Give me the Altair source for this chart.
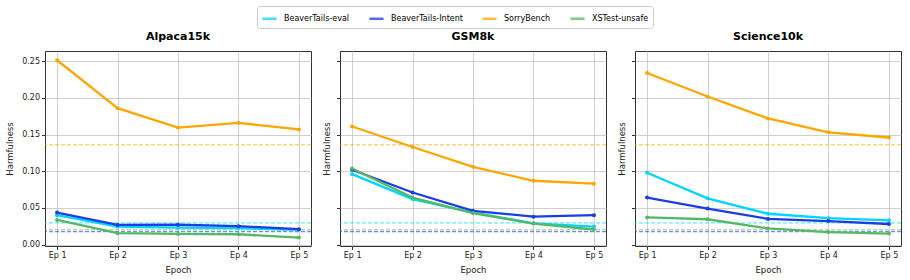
import altair as alt
import pandas as pd

datasets = ["Alpaca15k", "GSM8k", "Science10k"]
series = ["BeaverTails-eval", "BeaverTails-Intent", "SorryBench", "XSTest-unsafe"]
colors = ["#00d4ff", "#1a3de6", "#ffa500", "#55b865"]
epochs = [1, 2, 3, 4, 5]

values = {
    "Alpaca15k": {
        "BeaverTails-eval": [0.040, 0.0245, 0.023, 0.0225, 0.020],
        "BeaverTails-Intent": [0.0436, 0.0268, 0.027, 0.025, 0.021],
        "SorryBench": [0.2514, 0.186, 0.1595, 0.166, 0.157],
        "XSTest-unsafe": [0.0336, 0.0155, 0.0145, 0.014, 0.0095],
    },
    "GSM8k": {
        "BeaverTails-eval": [0.096, 0.062, 0.0436, 0.029, 0.0245],
        "BeaverTails-Intent": [0.102, 0.071, 0.046, 0.038, 0.040],
        "SorryBench": [0.161, 0.133, 0.106, 0.087, 0.083],
        "XSTest-unsafe": [0.1036, 0.064, 0.043, 0.0286, 0.0205],
    },
    "Science10k": {
        "BeaverTails-eval": [0.098, 0.063, 0.042, 0.036, 0.033],
        "BeaverTails-Intent": [0.064, 0.049, 0.035, 0.032, 0.028],
        "SorryBench": [0.234, 0.202, 0.172, 0.153, 0.146],
        "XSTest-unsafe": [0.037, 0.0345, 0.022, 0.017, 0.015],
    },
}
baselines = {
    "BeaverTails-eval": 0.0295,
    "BeaverTails-Intent": 0.0175,
    "SorryBench": 0.136,
    "XSTest-unsafe": 0.020,
}

FONT = "DejaVu Sans"
color_scale = alt.Scale(domain=series, range=colors)
ydom = [-0.002, 0.264]

base_df = pd.DataFrame({"series": list(baselines.keys()), "value": list(baselines.values())})

legend = alt.Legend(
    title=None,
    orient="none",
    direction="horizontal",
    legendX=212,
    legendY=-45,
    symbolType="stroke",
    symbolStrokeWidth=2.5,
    symbolSize=200,
    symbolDash=[1, 0],
    labelFont=FONT,
    labelFontSize=8,
    labelOffset=6,
    columnPadding=14,
    padding=4,
    strokeColor="#cccccc",
    cornerRadius=3,
)


def panel(name, first):
    rows = []
    for s in series:
        for e, v in zip(epochs, values[name][s]):
            rows.append({"series": s, "epoch": e, "value": v})
    df = pd.DataFrame(rows)
    yaxis = alt.Axis(
        title="Harmfulness",
        values=[0, 0.05, 0.1, 0.15, 0.2, 0.25],
        format=".2f",
        labels=first,
        titlePadding=7 if first else 5,
        grid=True,
    )
    xaxis = alt.Axis(
        title="Epoch",
        values=epochs,
        labelExpr="'Ep ' + datum.value",
        grid=True,
        titlePadding=6,
    )
    x = alt.X("epoch:Q", scale=alt.Scale(domain=[0.8, 5.2], nice=False, zero=False), axis=xaxis)
    y = alt.Y("value:Q", scale=alt.Scale(domain=ydom, nice=False, zero=False), axis=yaxis)
    rules = alt.Chart(base_df).mark_rule(strokeDash=[4, 2], strokeWidth=1, opacity=0.75).encode(
        y=alt.Y("value:Q", scale=alt.Scale(domain=ydom, nice=False, zero=False), axis=yaxis),
        color=alt.Color("series:N", scale=color_scale, legend=legend),
    )
    lines = alt.Chart(df).mark_line(
        strokeWidth=2.3, point=alt.OverlayMarkDef(size=16, filled=True)
    ).encode(
        x=x,
        y=y,
        color=alt.Color("series:N", scale=color_scale, legend=legend),
    )
    return alt.layer(rules, lines).properties(
        width=266, height=195,
        title=alt.TitleParams(name, font=FONT, fontSize=11, fontWeight="bold", offset=9),
    )


chart = alt.hconcat(*[panel(n, i == 0) for i, n in enumerate(datasets)], spacing=9).properties(
    padding={"left": 5, "top": 5, "right": 5, "bottom": 5}
).configure_view(
    stroke="#333333", strokeWidth=1
).configure_axis(
    labelFont=FONT, titleFont=FONT, labelFontSize=8, titleFontSize=8.5,
    titleFontWeight="normal", labelColor="#222222", titleColor="#222222",
    gridColor="#c4c4c4", gridWidth=0.8, domain=False, tickColor="#333333", tickSize=3.5,
    labelPadding=2,
)

chart.save("out.html", embed_options={"renderer": "svg", "actions": False})
